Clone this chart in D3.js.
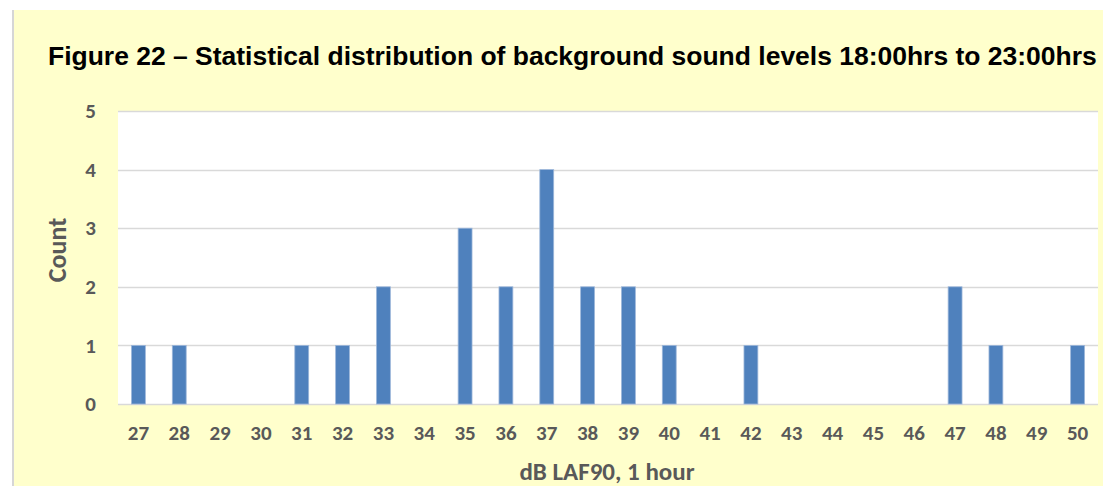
<!DOCTYPE html>
<html>
<head>
<meta charset="utf-8">
<script src="https://cdn.jsdelivr.net/npm/d3@7"></script>
<style>
  html, body { margin: 0; padding: 0; background: #ffffff; }
  svg { display: block; }
</style>
</head>
<body>
<svg id="chart" width="1105" height="486"></svg>
<script>
// Background sound level (dB LAF90, 1 hour) histogram bins and counts
const levels = ["27","28","29","30","31","32","33","34","35","36","37","38",
                "39","40","41","42","43","44","45","46","47","48","49","50"];
const counts = [1,1,0,0,1,1,2,0,3,2,4,2,2,1,0,1,0,0,0,0,2,1,0,1];
const countTicks = [0,1,2,3,4,5];

const titleText = "Figure 22 \u2013 Statistical distribution of background sound levels 18:00hrs to 23:00hrs";
const xTitle = "dB LAF90, 1 hour";
const yTitle = "Count";

const W = 1105, H = 486;
const svg = d3.select("#chart");

const labelFont = "Carlito, Calibri, Lato, 'Open Sans', sans-serif";
const labelColor = "#595959";

// Yellow panel with a grey left rule
svg.append("rect").attr("x", 13).attr("y", 10).attr("width", 1090).attr("height", H - 10)
  .attr("fill", "#FFFFCC");
svg.append("rect").attr("x", 12).attr("y", 10).attr("width", 2).attr("height", H - 10)
  .attr("fill", "#D6D6D6");

// Plot area
const plot = { left: 118, right: 1098, top: 111, bottom: 404 };

svg.append("rect")
  .attr("x", plot.left).attr("y", plot.top)
  .attr("width", plot.right - plot.left).attr("height", plot.bottom - plot.top)
  .attr("fill", "#ffffff");

const x = d3.scaleBand().domain(levels).range([plot.left, plot.right]).paddingInner(0.66).paddingOuter(0.33);
const y = d3.scaleLinear().domain([0, 5]).range([plot.bottom, plot.top]);

// Horizontal gridlines
svg.append("g")
  .selectAll("line")
  .data(countTicks)
  .join("line")
  .attr("x1", plot.left).attr("x2", plot.right)
  .attr("y1", d => Math.round(y(d)) + 0.5).attr("y2", d => Math.round(y(d)) + 0.5)
  .attr("stroke", "#D9D9D9").attr("stroke-width", 1.5);

// Bars
svg.append("g")
  .selectAll("rect")
  .data(levels.map((l, i) => ({ level: l, count: counts[i] })).filter(d => d.count > 0))
  .join("rect")
  .attr("x", d => x(d.level))
  .attr("y", d => y(d.count))
  .attr("width", x.bandwidth())
  .attr("height", d => y(0) - y(d.count))
  .attr("fill", "#4F81BD")
  .attr("stroke", "#9DB7DA")
  .attr("stroke-width", 0.8);

// Y axis labels
const yAxis = svg.append("g")
  .attr("transform", `translate(${plot.left - 22},0)`)
  .call(d3.axisLeft(y).tickValues(countTicks).tickSize(0).tickPadding(0).tickFormat(d3.format("d")));
yAxis.select(".domain").remove();
yAxis.selectAll("text")
  .attr("font-family", labelFont).attr("font-size", 21).attr("font-weight", "bold")
  .attr("fill", labelColor);

// X axis labels
const xAxis = svg.append("g")
  .attr("transform", `translate(0,${plot.bottom})`)
  .call(d3.axisBottom(x).tickSize(0).tickPadding(21));
xAxis.select(".domain").remove();
xAxis.selectAll("text")
  .attr("font-family", labelFont).attr("font-size", 21).attr("font-weight", "bold")
  .attr("fill", labelColor);

// Axis titles
svg.append("text")
  .attr("x", 607).attr("y", 480)
  .attr("text-anchor", "middle")
  .attr("font-family", labelFont).attr("font-size", 25).attr("font-weight", "bold")
  .attr("fill", labelColor)
  .text(xTitle);

svg.append("text")
  .attr("transform", "translate(66,250) rotate(-90)")
  .attr("text-anchor", "middle")
  .attr("font-family", labelFont).attr("font-size", 26).attr("font-weight", "bold")
  .attr("fill", labelColor)
  .text(yTitle);

// Chart title, sized to span the panel width
const title = svg.append("text")
  .attr("x", 48).attr("y", 65)
  .attr("font-family", "Arial, 'Liberation Sans', sans-serif")
  .attr("font-size", 22).attr("font-weight", "bold")
  .attr("fill", "#000000")
  .text(titleText);
const tw = title.node().getComputedTextLength();
title.attr("font-size", 22 * 1049 / tw);
</script>
</body>
</html>
